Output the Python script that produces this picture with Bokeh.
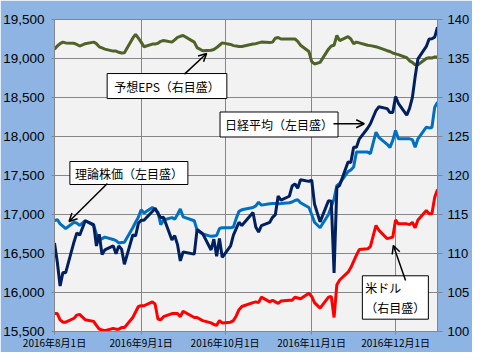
import pandas as pd
from bokeh.plotting import figure
from bokeh.models import (Range1d, LinearAxis, FixedTicker, NumeralTickFormatter,
                          Label, Arrow, OpenHead, ColumnDataSource)
from bokeh.embed import file_html
from bokeh.resources import INLINE

# ---------------- data ----------------
dates = [
    "2016-08-01", "2016-08-02", "2016-08-03", "2016-08-04", "2016-08-05", "2016-08-08", "2016-08-09",
    "2016-08-10", "2016-08-12", "2016-08-15", "2016-08-16", "2016-08-17", "2016-08-18", "2016-08-19",
    "2016-08-22", "2016-08-23", "2016-08-24", "2016-08-25", "2016-08-26", "2016-08-29", "2016-08-30",
    "2016-08-31",
    "2016-09-01", "2016-09-02", "2016-09-05", "2016-09-06", "2016-09-07", "2016-09-08", "2016-09-09",
    "2016-09-12", "2016-09-13", "2016-09-14", "2016-09-15", "2016-09-16", "2016-09-20", "2016-09-21",
    "2016-09-23", "2016-09-26", "2016-09-27", "2016-09-28", "2016-09-29", "2016-09-30",
    "2016-10-03", "2016-10-04", "2016-10-05", "2016-10-06", "2016-10-07", "2016-10-11", "2016-10-12",
    "2016-10-13", "2016-10-14", "2016-10-17", "2016-10-18", "2016-10-19", "2016-10-20", "2016-10-21",
    "2016-10-24", "2016-10-25", "2016-10-26", "2016-10-27", "2016-10-28", "2016-10-31",
    "2016-11-01", "2016-11-02", "2016-11-04", "2016-11-07", "2016-11-08", "2016-11-09", "2016-11-10",
    "2016-11-11", "2016-11-14", "2016-11-15", "2016-11-16", "2016-11-17", "2016-11-18", "2016-11-21",
    "2016-11-22", "2016-11-24", "2016-11-25", "2016-11-28", "2016-11-29", "2016-11-30",
    "2016-12-01", "2016-12-02", "2016-12-05", "2016-12-06", "2016-12-07", "2016-12-08", "2016-12-09",
    "2016-12-12", "2016-12-13", "2016-12-14", "2016-12-15", "2016-12-16",
]

# 日経平均 (left axis)
nikkei = [
    16636, 16391, 16083, 16255, 16254, 16651, 16765, 16735, 16920, 16870, 16597, 16746, 16486, 16546,
    16598, 16497, 16597, 16556, 16361, 16737, 16725, 16887,
    16927, 16926, 17038, 17082, 17012, 16959, 16966, 16673, 16729, 16614, 16405, 16519, 16492, 16808,
    16754, 16545, 16684, 16465, 16694, 16450,
    16599, 16736, 16819, 16899, 16860, 17025, 16840, 16774, 16856, 16900, 16964, 16999, 17236, 17185,
    17234, 17365, 17392, 17336, 17446, 17425,
    17442, 17135, 16905, 17177, 17171, 16252, 17344, 17375, 17673, 17668, 17862, 17863, 17967, 18106,
    18163, 18333, 18381, 18357, 18307, 18308,
    18513, 18426, 18275, 18361, 18497, 18765, 18996, 19155, 19251, 19254, 19274, 19401,
]

# 理論株価 (left axis)
theo = [
    16920, 16935, 16880, 16850, 16820, 16900, 16890, 16860, 16920, 16860, 16750, 16670, 16690, 16710,
    16680, 16665, 16635, 16640, 16645, 16830, 16900, 16965,
    17060, 17020, 17090, 17060, 17030, 16870, 16930, 16960, 16940, 17000, 17070, 16970, 16920, 16800,
    16750, 16720, 16725, 16730, 16820, 16830,
    16830, 16840, 16950, 17040, 17060, 17090, 17110, 17158, 17120, 17137, 17140, 17140, 17137, 17140,
    17150, 17160, 17180, 17188, 17150, 17090,
    17000, 16900, 16830, 17000, 17100, 17200, 17370, 17400, 17550, 17570, 17610, 17800, 17800, 17800,
    17780, 18055, 17990, 17900, 17860, 17950,
    18077, 17970, 17970, 17970, 17960, 17863, 17970, 18119, 18110, 18115, 18375, 18440,
]

# 米ドル (right axis)
usd = [
    102.3, 102.3, 101.5, 101.2, 101.2, 101.7, 102.1, 102.2, 101.5, 101.3, 100.8, 100.3, 100.2, 100.1,
    100.4, 100.3, 100.3, 100.5, 100.5, 101.8, 102.5, 103.2,
    103.3, 103.3, 103.8, 103.5, 101.6, 101.5, 101.9, 102.3, 102.3, 102.3, 101.9, 102.6, 101.8, 101.8,
    101.4, 101.1, 100.9, 100.8, 101.4, 101.1,
    101.2, 101.4, 102.0, 102.8, 103.2, 103.7, 103.8, 103.7, 104.4, 103.8, 104.0, 103.8, 103.6, 103.9,
    104.0, 104.0, 104.4, 104.3, 104.2, 104.9,
    104.5, 103.7, 103.0, 104.4, 104.5, 101.8, 106.0, 106.6, 107.6, 108.2, 109.0, 109.8, 110.5, 110.6,
    110.9, 113.6, 113.0, 111.9, 112.0, 112.1,
    114.3, 113.8, 113.8, 113.7, 114.0, 113.3, 114.3, 115.5, 115.1, 115.1, 117.2, 118.2,
]

# 予想EPS (right axis)
eps = [
    136.2, 136.6, 136.9, 137.1, 137.0, 136.95, 136.8, 136.6, 136.9, 137.1, 136.9, 136.5, 136.35, 136.2,
    135.95, 135.95, 135.8, 135.7, 135.75, 137.6, 138.1, 137.6,
    137.1, 136.5, 136.85, 136.85, 136.95, 137.2, 137.3, 137.1, 137.4, 137.7, 137.85, 137.95, 137.1, 136.4,
    136.0, 136.05, 136.15, 136.4, 136.7, 137.0,
    136.8, 136.65, 136.6, 136.55, 136.55, 136.85, 136.9, 137.0, 137.1, 137.05, 137.1, 137.6, 137.7, 137.5,
    137.5, 137.5, 137.5, 137.2, 136.7, 135.9,
    134.6, 134.3, 134.5, 136.2, 136.6, 136.7, 137.95, 137.3, 137.8, 137.5, 136.9, 137.1, 137.0, 136.7,
    136.65, 136.5, 136.4, 136.0, 135.9, 135.7,
    135.6, 135.5, 135.1, 134.7, 134.5, 134.2, 134.2, 135.0, 135.1, 135.05, 135.2, 135.2,
]

month_ticks = ["2016-08-01", "2016-09-01", "2016-10-01", "2016-11-01", "2016-12-01"]
month_labels = ["2016年8月1日", "2016年9月1日", "2016年10月1日", "2016年11月1日", "2016年12月1日"]
left_ticks = [15500, 16000, 16500, 17000, 17500, 18000, 18500, 19000, 19500]
right_ticks = [100, 105, 110, 115, 120, 125, 130, 135, 140]
x_first, x_last = "2016-08-01", "2016-12-16"


def ms(s):
    return float(pd.Timestamp(s).value // 10**6)


# ---------------- figure ----------------
BG = "#8DB4E2"
GRID = "#868686"
LABEL_FONT = "'Liberation Sans Narrow', 'Arial Narrow', 'Liberation Sans', sans-serif"
CJK = "'Noto Sans CJK JP'"

p = figure(width=472, height=352, x_axis_type="datetime",
           output_backend="svg", toolbar_location=None,
           x_range=Range1d(ms(x_first), ms(x_last)),
           y_range=Range1d(left_ticks[0], left_ticks[-1]),
           background_fill_color="#F2F2F2", border_fill_color=BG,
           outline_line_color=GRID,
           min_border_left=45, min_border_right=29, min_border_top=19, min_border_bottom=21)
p.extra_y_ranges = {"usd": Range1d(right_ticks[0], right_ticks[-1])}

src = ColumnDataSource(dict(x=pd.to_datetime(dates), nikkei=nikkei, theo=theo, usd=usd, eps=eps))

# axes
xt = FixedTicker(ticks=[ms(t) for t in month_ticks])
p.xaxis.ticker = xt
p.xaxis.major_label_overrides = {ms(t): lab for t, lab in zip(month_ticks, month_labels)}
p.xaxis.major_label_text_font = "'Liberation Sans Narrow', " + CJK
p.xaxis.major_label_text_font_size = "10px"
p.xaxis.major_label_standoff = 0
p.xaxis.major_tick_out = 3
p.xaxis.major_tick_in = 0

p.yaxis.ticker = FixedTicker(ticks=left_ticks)
p.yaxis.formatter = NumeralTickFormatter(format="0,0")
p.yaxis.major_label_text_font = LABEL_FONT
p.yaxis.major_label_text_font_size = "13.5px"
p.yaxis.major_label_standoff = 7
p.yaxis.major_tick_out = 3
p.yaxis.major_tick_in = 0

ra = LinearAxis(y_range_name="usd", ticker=FixedTicker(ticks=right_ticks))
ra.major_label_text_font = LABEL_FONT
ra.major_label_text_font_size = "13px"
ra.major_label_standoff = 5
ra.major_tick_out = 5
ra.major_tick_in = 0
p.add_layout(ra, "right")

for ax in p.axis:
    ax.axis_line_color = GRID
    ax.major_tick_line_color = GRID
    ax.minor_tick_line_color = None
    ax.major_label_text_color = "black"

p.xgrid.ticker = xt
p.ygrid.ticker = FixedTicker(ticks=left_ticks)
for g in p.grid:
    g.grid_line_color = GRID
    g.grid_line_width = 1

# series
p.line("x", "eps", source=src, y_range_name="usd", line_width=3, color="#4F6228")
p.line("x", "usd", source=src, y_range_name="usd", line_width=3, color="#FF0000")
p.line("x", "theo", source=src, line_width=3, color="#0070C0")
p.line("x", "nikkei", source=src, line_width=3, color="#002060")


# annotations (x, y = left edge / vertical centre of each box)
def box(x, y, text, pad):
    lab = Label(x=ms(x), y=y, text=text, text_font=CJK, text_font_size="12px",
                text_color="black", text_align="left", text_baseline="middle",
                background_fill_color="white", border_line_color="black",
                border_line_width=1, padding=pad)
    p.add_layout(lab)


def arrow(x0, y0, x1, y1):
    p.add_layout(Arrow(end=OpenHead(size=8, line_width=1.5, line_color="black"),
                       x_start=ms(x0), y_start=y0, x_end=ms(x1), y_end=y1,
                       line_width=1.5, line_color="black"))


box("2016-08-19 20:00", 18647, "予想EPS（右目盛）", (7, 4))
arrow("2016-09-16 12:00", 18800, "2016-09-24 10:00", 19065)

box("2016-09-29 05:00", 18154, "日経平均（左目盛）", (5, 4))
arrow("2016-11-08 19:00", 18164, "2016-11-19 19:00", 18164)

box("2016-08-06 12:00", 17532, "理論株価（左目盛）", (5, 3))
arrow("2016-08-19 22:00", 17397, "2016-08-06 05:00", 16910)

box("2016-11-19 03:00", 15936, "米ドル\n（右目盛）", (3, 3))
arrow("2016-12-04 14:00", 16154, "2016-11-30 05:00", 16603)

html = file_html(p, INLINE)
html = html.replace("<body>", '<body style="background:%s">' % BG, 1)
open("out.html", "w").write(html)
